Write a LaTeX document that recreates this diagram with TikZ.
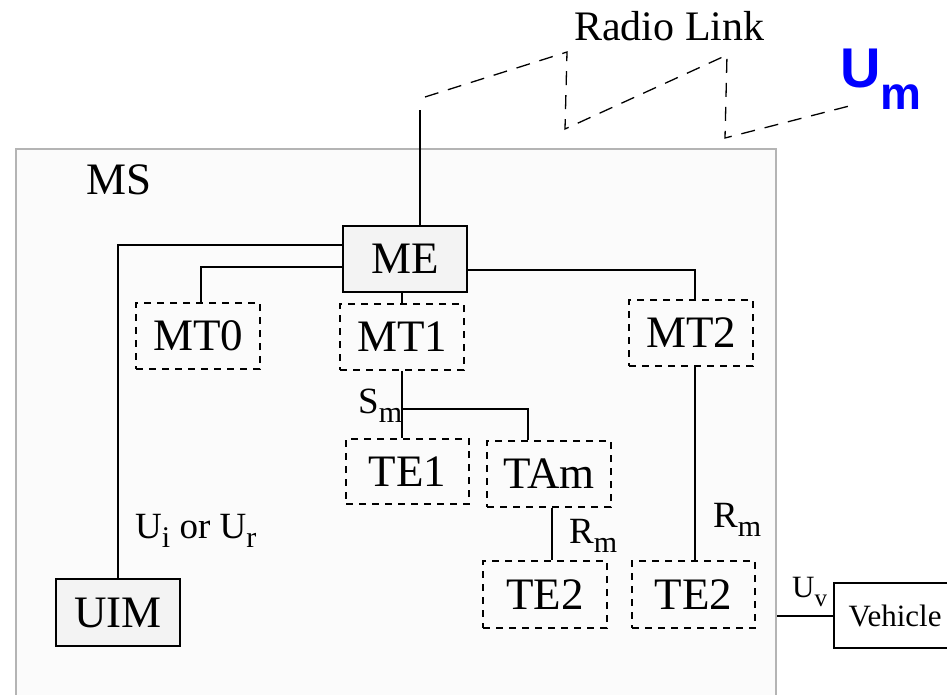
\documentclass[tikz,border=0pt]{standalone}
\usepackage{fontspec}
\setmainfont{Liberation Serif}
\newfontfamily\umfont{Liberation Sans}
\usetikzlibrary{positioning,calc}
\definecolor{FrameGray}{RGB}{180,180,180}
\definecolor{PanelGray}{RGB}{251,251,251}
\definecolor{BoxGray}{RGB}{243,243,243}
\definecolor{LinkBlue}{RGB}{0,0,255}
\newcommand{\ix}[2][30pt]{\raisebox{-9pt}{\fontsize{#1}{#1}\selectfont #2}}

\begin{document}
\begin{tikzpicture}[x=1pt,y=-1pt,
    bigtext/.style={font=\fontsize{45pt}{50pt}\selectfont},
    unit/.style={draw,line width=2pt,fill=BoxGray,minimum width=124pt,minimum height=66pt,inner sep=0pt,bigtext},
    func/.style={draw,line width=2pt,dash pattern=on 7pt off 6pt,minimum width=124pt,minimum height=66pt,inner sep=0pt,bigtext},
    iface/.style={inner sep=0pt,anchor=base west,font=\fontsize{37pt}{40pt}\selectfont},
    wire/.style={line width=2pt},
    radiolink/.style={line width=1.3pt,dash pattern=on 14pt off 10pt}]
\useasboundingbox (0,0) rectangle (947,694);

% mobile station frame
\node[draw=FrameGray,line width=2pt,fill=PanelGray,minimum width=760pt,minimum height=580pt,
      anchor=north west,inner sep=0pt] (MS) at (15,148) {};
\node[anchor=base west,inner sep=0pt,bigtext] (mslabel) at (86,194) {MS};

% radio link
\node[anchor=base west,inner sep=0pt,font=\fontsize{42pt}{46pt}\selectfont] (radio) at (574,40) {Radio Link};
\node[anchor=base west,inner sep=0pt,text=LinkBlue,font=\umfont\bfseries\fontsize{56pt}{60pt}\selectfont] (um)
      at (840,87) {U\raisebox{-22pt}{\fontsize{46pt}{50pt}\selectfont m}};
\draw[radiolink] (425,97) -- (567,52) -- (565,129) -- (727,55) -- (725,138) -- (857,104);

% boxes
\node[unit] (ME) at (405,259) {ME};
\node[func] (MT0) at (198,336) {MT0};
\node[func] (MT1) at (402,337) {MT1};
\node[func] (MT2) at (691,333) {MT2};
\node[func,minimum width=123pt,minimum height=65pt] (TE1) at (407.5,471.5) {TE1};
\node[func] (TAm) at (549,474) {TAm};
\node[func,minimum height=67pt] (TE2a) at (545,594.5) {TE2};
\node[func,minimum width=123pt,minimum height=67pt] (TE2b) at (693.5,594.5) {TE2};
\node[unit,minimum height=67pt] (UIM) at (118,612.5) {UIM};
\node[draw,line width=2pt,fill=white,minimum width=122pt,minimum height=65pt,anchor=west,
      font=\fontsize{31pt}{34pt}\selectfont] (Vehicle) at (833,615.5) {Vehicle};

% connectors
\coordinate (ant) at (420,110);
\draw[wire] (ant) -- (ant |- ME.north);
\draw[wire] ([yshift=14pt]ME.west) -| (UIM.north);
\draw[wire] ([yshift=-8pt]ME.west) -| ([xshift=3pt]MT0.north);
\draw[wire] (MT1.north |- ME.south) -- (MT1.north);
\draw[wire] ([yshift=-11pt]ME.east) -| ([xshift=4pt]MT2.north);
\draw[wire] (MT1.south) -- (MT1.south |- TE1.north);
\coordinate (smj) at ($(MT1.south)!0.56!(MT1.south |- TE1.north)$);
\draw[wire] (smj) -| ([xshift=-21pt]TAm.north);
\draw[wire] ([xshift=3pt]TAm.south) -- ([xshift=3pt]TAm.south |- TE2a.north);
\draw[wire] ([xshift=4pt]MT2.south) -- ([xshift=4pt]MT2.south |- TE2b.north);
\draw[wire] (Vehicle.west) -- (Vehicle.west -| MS.east);

% interface labels
\node[iface] (sm) at (358,413) {S\ix{m}};
\node[iface] (uiur) at (135,538) {U\ix{i} or U\ix{r}};
\node[iface] (rm1) at (569,543) {R\ix{m}};
\node[iface] (rm2) at (713,527) {R\ix{m}};
\node[iface,font=\fontsize{31pt}{34pt}\selectfont] (uv) at (792,597) {U\ix[25pt]{v}};
\end{tikzpicture}
\end{document}
